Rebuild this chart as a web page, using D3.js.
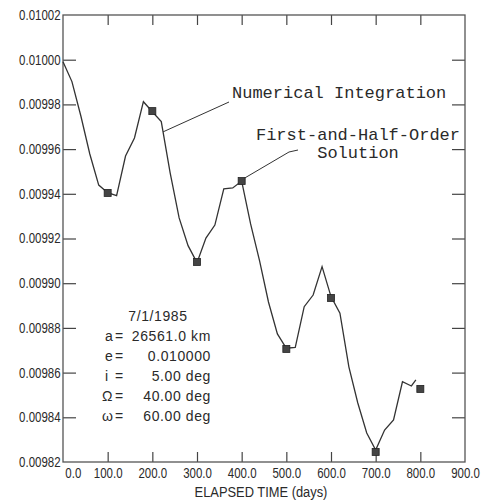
<!DOCTYPE html>
<meta charset='utf-8'>
<style>
  body { margin:0; background:#fff; }
  .tick text, .axis-title { font-family:'Liberation Sans',sans-serif; font-size:14px; fill:#2a2a2a; }
  .note { font-family:'Liberation Mono','DejaVu Sans Mono',monospace; font-size:17px; fill:#2a2a2a; }
  .block { font-family:'Liberation Sans','DejaVu Sans',sans-serif; font-size:14px; fill:#2a2a2a; letter-spacing:0.6px; }
</style>
<body>
  <script src='https://d3js.org/d3.v7.min.js' charset='utf-8'></script>
  <script>

    // numerical integration, sampled every 20 days
    var numDays = [0,20,40,60,80,100,120,140,160,180,200,220,240,260,280,300,320,340,360,380,
      400,420,440,460,480,500,520,540,560,580,600,620,640,660,680,700,720,740,760,780,790];
    var numVals = [0.0099991,0.0099902,0.0099748,0.0099578,0.0099439,0.0099405,0.0099392,0.0099569,
      0.0099650,0.0099812,0.0099767,0.0099723,0.0099493,0.0099292,0.0099168,0.0099092,0.0099202,
      0.0099260,0.0099422,0.0099426,0.0099457,0.0099265,0.0099101,0.0098916,0.0098773,0.0098709,
      0.0098713,0.0098895,0.0098947,0.0099074,0.0098940,0.0098866,0.0098626,0.0098464,0.0098330,
      0.0098254,0.0098343,0.0098388,0.0098559,0.0098540,0.0098567];

    // first-and-half-order solution
    var solDays = [100,200,300,400,500,600,700,800];
    var solVals = [0.0099404,0.0099770,0.0099095,0.0099457,0.0098706,0.0098934,0.0098245,0.0098527];

    var xTicks = [0,100,200,300,400,500,600,700,800,900];
    var yTicks = [0.00982,0.00984,0.00986,0.00988,0.00990,0.00992,0.00994,0.00996,0.00998,0.01000,0.01002];

    var blockDate = '7/1/1985';
    var blockNames = ['a','e','i','\u03A9','\u03C9'];
    var blockValues = ['26561.0 km','0.010000','5.00 deg','40.00 deg','60.00 deg'];

    var width = 486;
    var height = 504;
    var pLeft = 63, pRight = 465, pTop = 15, pBottom = 462;

    var svg = d3.select('body').append('svg')
      .attr('width',width)
      .attr('height',height);

    var x = d3.scaleLinear().domain([0,900]).range([pLeft,pRight]);
    var y = d3.scaleLinear().domain([0.00982,0.01002]).range([pBottom,pTop]);

    var innerY = yTicks.slice(1,-1);
    var innerX = xTicks.slice(1,-1);

    // left axis with labels
    var gl = svg.append('g').attr('transform','translate(' + pLeft + ',0)')
      .call(d3.axisLeft(y).tickValues(yTicks).tickFormat(d3.format('.5f')).tickSize(0).tickPadding(3));
    gl.select('.domain').remove();
    gl.selectAll('.tick text').attr('transform','scale(0.82,1)');
    svg.append('g').attr('transform','translate(' + pLeft + ',0)')
      .call(d3.axisLeft(y).tickValues(innerY).tickSize(-13).tickFormat(''))
      .call(g => g.select('.domain').remove());
    svg.append('g').attr('transform','translate(' + pRight + ',0)')
      .call(d3.axisRight(y).tickValues(innerY).tickSize(-13).tickFormat(''))
      .call(g => g.select('.domain').remove());

    // bottom axis with labels
    var gb = svg.append('g').attr('transform','translate(0,' + pBottom + ')')
      .call(d3.axisBottom(x).tickValues(xTicks).tickFormat(d3.format('.1f')).tickSize(0).tickPadding(6));
    gb.select('.domain').remove();
    gb.selectAll('.tick text')
      .attr('dx', d => d === 0 ? 12 : 0)
      .attr('transform','scale(0.82,1)');
    svg.append('g').attr('transform','translate(0,' + pBottom + ')')
      .call(d3.axisBottom(x).tickValues(innerX).tickSize(-10).tickFormat(''))
      .call(g => g.select('.domain').remove());
    svg.append('g').attr('transform','translate(0,' + pTop + ')')
      .call(d3.axisTop(x).tickValues(innerX).tickSize(-10).tickFormat(''))
      .call(g => g.select('.domain').remove());

    svg.selectAll('.tick line').attr('stroke','#444').attr('stroke-width',1.2);

    svg.append('rect')
      .attr('x',pLeft).attr('y',pTop)
      .attr('width',pRight-pLeft).attr('height',pBottom-pTop)
      .attr('fill','none').attr('stroke','#555').attr('stroke-width',1.3);

    svg.append('text').attr('class','axis-title')
      .attr('transform','translate(' + ((pLeft+pRight)/2 - 3) + ',497) scale(0.92,1)')
      .attr('text-anchor','middle')
      .text('ELAPSED TIME (days)');

    // numerical integration line
    var line = d3.line().x(d => x(d[0])).y(d => y(d[1]));
    svg.append('path')
      .datum(d3.zip(numDays,numVals))
      .attr('d',line)
      .attr('fill','none')
      .attr('stroke','#333')
      .attr('stroke-width',1.3);

    // solution markers
    svg.selectAll('.sol').data(d3.zip(solDays,solVals)).enter().append('rect')
      .attr('class','sol')
      .attr('x',d => x(d[0]) - 3.5)
      .attr('y',d => y(d[1]) - 3.5)
      .attr('width',7).attr('height',7)
      .attr('fill','#444').attr('stroke','#222').attr('stroke-width',0.8);

    // leaders
    var a1 = [x(224), y(numVals[11] + (numVals[12]-numVals[11])*0.2)];
    svg.append('path')
      .attr('d','M' + a1[0] + ',' + a1[1] + 'L229,102')
      .attr('fill','none').attr('stroke','#333').attr('stroke-width',1);
    var a2 = [x(400) + 3, y(solVals[3]) - 3];
    svg.append('path')
      .attr('d','M' + a2[0] + ',' + a2[1] + 'L289,152L298,150')
      .attr('fill','none').attr('stroke','#333').attr('stroke-width',1);

    svg.append('text').attr('class','note').attr('x',232).attr('y',98).text('Numerical Integration');
    svg.append('text').attr('class','note').attr('x',358).attr('y',140).attr('text-anchor','middle').text('First-and-Half-Order');
    svg.append('text').attr('class','note').attr('x',358).attr('y',158).attr('text-anchor','middle').text('Solution');

    // orbit elements block
    svg.append('text').attr('class','block').attr('x',158).attr('y',321).attr('text-anchor','middle').text(blockDate);
    blockNames.forEach((n,i) => {
      var yy = 341 + i*20;
      svg.append('text').attr('class','block').attr('x',i < 3 ? 105 : 102).attr('y',yy).text(n);
      svg.append('text').attr('class','block').attr('x',115).attr('y',yy).text('=');
      svg.append('text').attr('class','block').attr('x',211).attr('y',yy).attr('text-anchor','end').text(blockValues[i]);
    });
  </script>
</body>
